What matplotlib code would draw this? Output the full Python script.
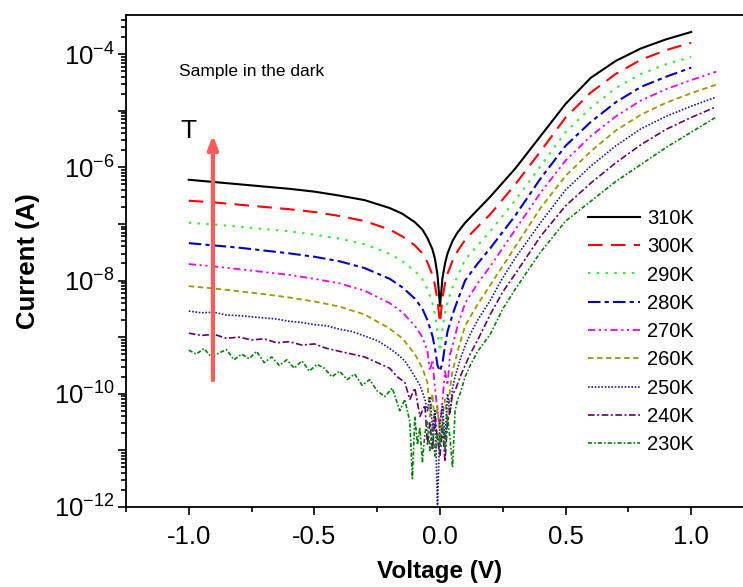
import numpy as np
import matplotlib.pyplot as plt
from matplotlib.ticker import FixedLocator, LogLocator, NullFormatter, FuncFormatter

plt.rcParams['font.family'] = ['Liberation Sans', 'DejaVu Sans']
plt.rcParams['mathtext.default'] = 'regular'

# I-V curves in the dark, values stored as log10(I / A)
v_310 = [-1.0, -0.9, -0.8, -0.7, -0.6, -0.5, -0.4, -0.3, -0.2, -0.15, -0.1, -0.07, -0.05, -0.03, -0.02, -0.01, 0.0,
         0.01, 0.02, 0.03, 0.05, 0.07, 0.1, 0.15, 0.2, 0.3, 0.4, 0.5, 0.6, 0.7, 0.8, 0.9, 1.0]
log_310 = [-6.22, -6.26, -6.3, -6.34, -6.38, -6.43, -6.5, -6.58, -6.72, -6.82, -6.97, -7.1, -7.25, -7.45, -7.62, -7.9, -8.45,
           -7.95, -7.7, -7.52, -7.3, -7.15, -6.98, -6.75, -6.52, -6.02, -5.45, -4.88, -4.42, -4.12, -3.9, -3.74, -3.61]
log_300 = [-6.59, -6.62, -6.66, -6.7, -6.74, -6.79, -6.86, -6.95, -7.1, -7.22, -7.38, -7.52, -7.68, -7.9, -8.08, -8.35, -8.75,
           -8.3, -8.05, -7.88, -7.65, -7.48, -7.28, -7.05, -6.83, -6.3, -5.72, -5.12, -4.68, -4.35, -4.1, -3.93, -3.80]
log_290 = [-6.98, -7.01, -7.05, -7.09, -7.13, -7.19, -7.26, -7.36, -7.53, -7.66, -7.83, -7.98, -8.15, -8.4, -8.6, -8.9, -9.25,
           -8.85, -8.58, -8.38, -8.12, -7.92, -7.63, -7.38, -7.13, -6.58, -5.98, -5.38, -4.95, -4.6, -4.35, -4.18, -4.05]
log_280 = [-7.34, -7.38, -7.42, -7.47, -7.52, -7.58, -7.66, -7.78, -7.97, -8.12, -8.32, -8.5, -8.7, -8.98, -9.2, -9.5, -9.6,
           -9.45, -9.15, -8.9, -8.6, -8.35, -8.0, -7.7, -7.43, -6.85, -6.2, -5.62, -5.2, -4.85, -4.58, -4.4, -4.24]

v_270 = [-1.0, -0.9, -0.8, -0.7, -0.6, -0.5, -0.4, -0.3, -0.2, -0.15, -0.1, -0.07, -0.05, -0.04, -0.03, -0.02, -0.01, 0.0,
         0.01, 0.02, 0.03, 0.04, 0.05, 0.07, 0.1, 0.15, 0.2, 0.3, 0.4, 0.5, 0.6, 0.7, 0.8, 0.9, 1.0, 1.1]
log_270 = [-7.71, -7.75, -7.8, -7.85, -7.9, -7.97, -8.05, -8.18, -8.4, -8.56, -8.8, -9.0, -9.25, -9.6, -9.4, -9.9, -10.3, -10.6,
           -10.1, -9.6, -9.85, -9.3, -9.15, -8.8, -8.4, -8.05, -7.75, -7.1, -6.45, -5.88, -5.45, -5.1, -4.82, -4.62, -4.46, -4.31]
log_260 = [-8.10, -8.14, -8.19, -8.24, -8.3, -8.37, -8.46, -8.6, -8.85, -9.02, -9.3, -9.55, -9.8, -10.4, -10.0, -10.6, -10.2, -10.9,
           -10.4, -10.1, -10.5, -9.9, -9.6, -9.25, -8.8, -8.42, -8.08, -7.4, -6.72, -6.15, -5.72, -5.35, -5.07, -4.86, -4.69, -4.54]

v_250 = [-1.0, -0.95, -0.9, -0.85, -0.8, -0.75, -0.7, -0.65, -0.6, -0.55, -0.5, -0.45, -0.4, -0.35, -0.3, -0.25, -0.2,
         -0.17, -0.14, -0.12, -0.1, -0.08, -0.06, -0.05, -0.04, -0.03, -0.02, -0.01, 0.0,
         0.01, 0.02, 0.03, 0.04, 0.05, 0.06, 0.08, 0.1, 0.12, 0.15, 0.2, 0.25, 0.3,
         0.4, 0.5, 0.6, 0.7, 0.8, 0.9, 1.0, 1.1]
log_250 = [-8.54, -8.57, -8.56, -8.61, -8.62, -8.64, -8.66, -8.68, -8.72, -8.74, -8.78, -8.8, -8.86, -8.9, -8.98, -9.06, -9.2,
           -9.3, -9.42, -9.55, -9.7, -9.85, -10.1, -10.3, -10.05, -10.6, -10.3, -12.0, -10.5,
           -10.2, -10.8, -10.0, -10.35, -9.9, -9.7, -9.4, -9.15, -8.95, -8.7, -8.35, -7.95, -7.6,
           -6.98, -6.4, -5.98, -5.62, -5.32, -5.1, -4.92, -4.76]
log_240 = [-8.93, -8.97, -8.95, -9.02, -9.0, -9.05, -9.03, -9.1, -9.08, -9.14, -9.12, -9.2, -9.25, -9.3, -9.35, -9.45, -9.55,
           -9.7, -9.8, -10.1, -9.9, -10.4, -10.2, -10.9, -10.5, -11.0, -10.4, -10.8, -11.1,
           -10.6, -11.2, -10.5, -10.3, -10.0, -9.95, -9.7, -9.5, -9.3, -9.05, -8.6, -8.2, -7.88,
           -7.22, -6.68, -6.28, -5.92, -5.6, -5.33, -5.12, -4.93]

v_230 = [-1.0, -0.97, -0.94, -0.91, -0.88, -0.85, -0.82, -0.79, -0.76, -0.73, -0.7, -0.67, -0.64, -0.61, -0.58,
         -0.55, -0.52, -0.49, -0.46, -0.43, -0.4, -0.37, -0.34, -0.31, -0.28, -0.25, -0.22, -0.19, -0.16,
         -0.14, -0.12, -0.11, -0.1, -0.09, -0.08, -0.07, -0.06, -0.05, -0.04, -0.03, -0.02, -0.01, 0.0,
         0.01, 0.02, 0.03, 0.04, 0.05, 0.06, 0.07, 0.08, 0.1, 0.12, 0.15, 0.2, 0.25, 0.3,
         0.4, 0.5, 0.6, 0.7, 0.8, 0.9, 1.0, 1.1]
log_230 = [-9.23, -9.3, -9.2, -9.35, -9.28, -9.22, -9.4, -9.3, -9.38, -9.25, -9.45, -9.35, -9.5, -9.4, -9.55,
           -9.42, -9.6, -9.48, -9.55, -9.7, -9.6, -9.75, -9.65, -9.85, -9.75, -9.95, -10.05, -9.9, -10.3,
           -10.1, -10.5, -11.5, -10.4, -10.9, -10.6, -11.2, -10.7, -10.5, -11.0, -10.6, -11.1, -10.7, -10.9,
           -10.5, -11.0, -10.4, -10.8, -11.3, -10.3, -10.1, -10.0, -9.7, -9.5, -9.25, -8.95, -8.5, -8.15,
           -7.5, -6.95, -6.6, -6.25, -5.95, -5.65, -5.38, -5.11]

labels = ['310K', '300K', '290K', '280K', '270K', '260K', '250K', '240K', '230K']
volts = [v_310, v_310, v_310, v_310, v_270, v_270, v_250, v_250, v_230]
logs = [log_310, log_300, log_290, log_280, log_270, log_260, log_250, log_240, log_230]

colors = ['black', 'red', '#33ee33', '#0000cc', '#ee00ee', '#999900', '#1a1a99', '#660066', '#008000']
dashes = [(None, None), (7, 4), (1.2, 3), (6, 2, 2, 2), (4, 2, 1.2, 2, 1.2, 2), (3, 2),
          (1, 1), (4, 1.5, 1.2, 1.5), (2.5, 1.2, 1, 1.2)]
widths = [1.5, 1.5, 1.5, 1.5, 1.3, 1.3, 1.2, 1.2, 1.2]

fig = plt.figure(figsize=(7.43, 5.87), dpi=100)
ax = fig.add_axes([126 / 743, 80 / 587, 628 / 743, 492 / 587])

for v, lg, c, d, w, lab in zip(volts, logs, colors, dashes, widths, labels):
    line, = ax.plot(v, 10 ** np.array(lg), color=c, lw=w, label=lab)
    if d[0] is not None:
        line.set_dashes(d)

ax.set_yscale('log')
ax.set_xlim(-1.25, 1.25)
ax.set_ylim(1e-12, 10 ** -3.31)

ax.xaxis.set_major_locator(FixedLocator([-1.0, -0.5, 0.0, 0.5, 1.0]))
ax.xaxis.set_minor_locator(FixedLocator([-1.25, -0.75, -0.25, 0.25, 0.75, 1.25]))
ax.yaxis.set_major_locator(FixedLocator([10.0 ** k for k in range(-12, -3)]))
ax.yaxis.set_minor_locator(LogLocator(base=10, subs=np.arange(2, 10), numticks=50))
ax.yaxis.set_minor_formatter(NullFormatter())


def ylab(y, pos):
    k = int(round(np.log10(y)))
    if k % 2:
        return ''
    return r'10$^{%d}$' % k


ax.yaxis.set_major_formatter(FuncFormatter(ylab))
ax.xaxis.set_major_formatter(FuncFormatter(lambda x, p: '%.1f' % x))

ax.tick_params(which='both', direction='out', top=False, right=False, width=1.2)
ax.tick_params(which='major', length=6, labelsize=18.5)
ax.tick_params(which='minor', length=3.5)
ax.tick_params(axis='x', which='major', pad=7)
ax.tick_params(axis='y', which='major', pad=2)
for s in ax.spines.values():
    s.set_linewidth(1.3)

ax.set_xlabel('Voltage (V)', fontsize=17.5, fontweight='bold', labelpad=8)
ax.set_ylabel('Current (A)', fontsize=18.5, fontweight='bold')
ax.yaxis.set_label_coords(-0.137, 0.5)

ax.text(-1.04, 10 ** -4.31, 'Sample in the dark', fontsize=12.5, va='center')
ax.text(-1.0, 10 ** -5.36, 'T', fontsize=19, ha='center', va='center')
ax.annotate('', xy=(-0.904, 10 ** -5.43), xytext=(-0.904, 10 ** -9.76),
            arrowprops=dict(arrowstyle='-|>,head_width=0.3,head_length=0.8', color='#ff5a5a',
                            lw=3, shrinkA=0, shrinkB=0))

ax.legend(loc='upper left', bbox_to_anchor=(588 / 743, 1 - 209 / 587), bbox_transform=fig.transFigure,
          frameon=False, fontsize=14.5, handlelength=2.6, handletextpad=0.35, labelspacing=0.46,
          borderaxespad=0, borderpad=0)

fig.savefig('out.png', dpi=100)
